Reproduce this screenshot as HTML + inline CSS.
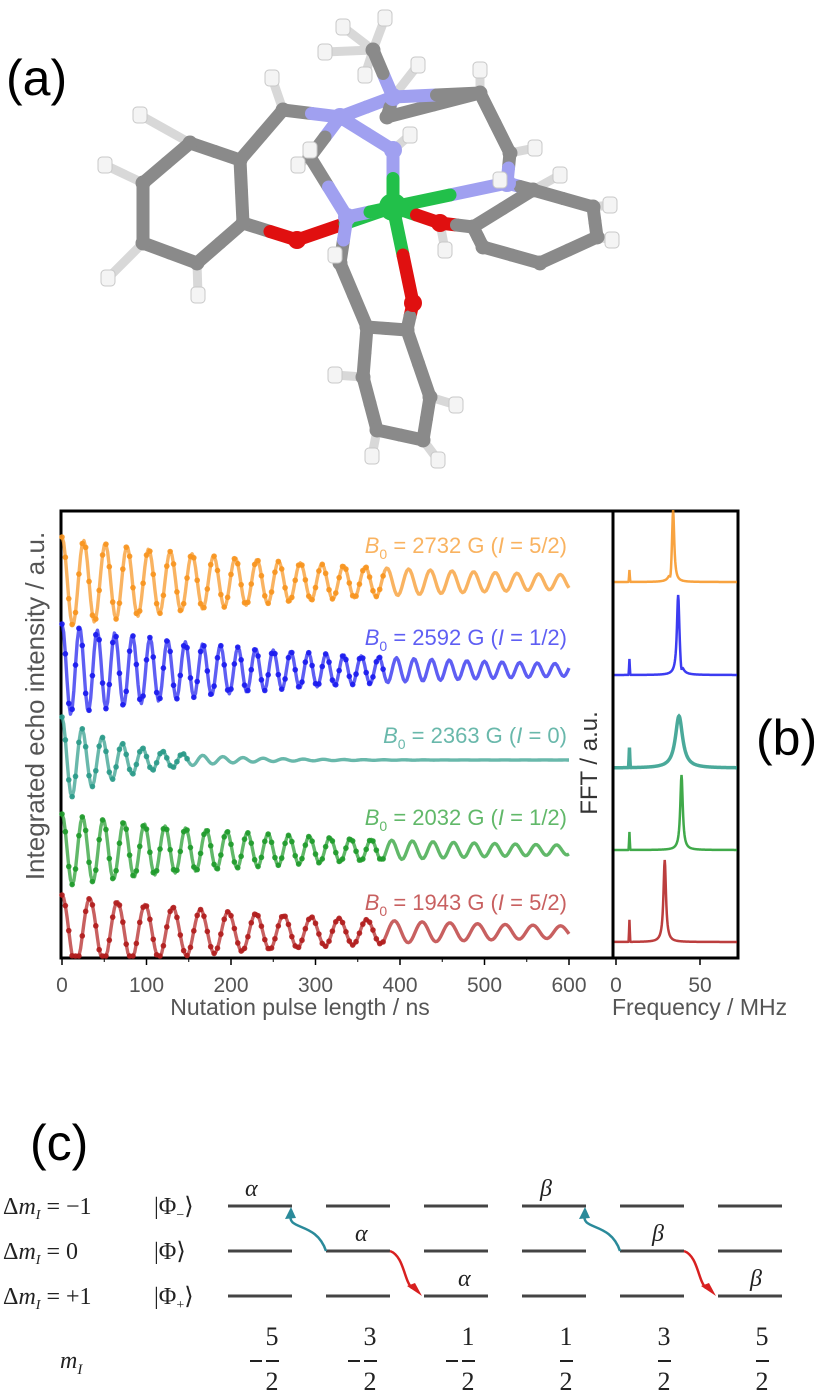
<!DOCTYPE html>
<html><head><meta charset="utf-8">
<style>
html,body{margin:0;padding:0;background:#fff;}
body{width:831px;height:1396px;position:relative;overflow:hidden;font-family:"Liberation Sans",sans-serif;}
svg{position:absolute;left:0;top:0;}
</style></head>
<body>
<svg id="fig" width="831" height="1396" viewBox="0 0 831 1396">
  <text x="6" y="95" font-size="50" fill="#000">(a)</text>
  <g id="mol"></g>

  <g id="chart">
    <rect x="61" y="511" width="677" height="447" fill="none" stroke="#000" stroke-width="3"/>
    <g id="xticks"></g>
    <g id="series"></g>
    <g id="fft"></g>
    <line x1="613" y1="511" x2="613" y2="958" stroke="#000" stroke-width="3"/>
    <text x="300" y="1015" font-size="23" fill="#555" text-anchor="middle">Nutation pulse length / ns</text>
    <text x="612" y="1015" font-size="23" fill="#555">Frequency / MHz</text>
    <text transform="translate(44,706) rotate(-90)" font-size="26" fill="#555" text-anchor="middle">Integrated echo intensity / a.u.</text>
    <text transform="translate(597,763) rotate(-90)" font-size="24" fill="#333" text-anchor="middle">FFT / a.u.</text>
  </g>
  <text x="756" y="755" font-size="50" fill="#000">(b)</text>

  <text x="30" y="1160" font-size="50" fill="#000">(c)</text>
  <g id="levels"></g>
</svg>
<script>
// ---------- chart data ----------
const seriesNames = ['orange','blue','teal','green','red'];
const seriesColors = ['#f7931e','#1a1aee','#2a9a88','#1e9a2a','#b01c1c'];
const fieldLabels = ['2732 G','2592 G','2363 G','2032 G','1943 G'];
const spinLabels = ['5/2','1/2','0','1/2','5/2'];
const nutationFreqMHz = [39, 48, 42, 41, 30.5];
const nutationAmp = [45, 46, 43, 36, 37];
const nutationDecayNs = [330, 300, 75, 300, 330];
const nutationOffset = [582, 670, 760, 850, 932];
const fftPeakMHz = [34, 37, 37.5, 39, 29];
const fftPeakHeight = [72, 80, 52, 75, 82];
const fftPeakWidth = [0.8, 0.9, 2.6, 0.9, 0.9];
const fftSmallMHz = [8, 8, 8, 8, 8];
const fftSmallHeight = [12, 16, 20, 18, 22];
const fftBaseline = [582, 675, 768, 850, 942];
const xTicks = [0,100,200,300,400,500,600];
const fTicks = [0,50];

const NS='http://www.w3.org/2000/svg';
function mk(tag,attrs,parent){const e=document.createElementNS(NS,tag);for(const k in attrs)e.setAttribute(k,attrs[k]);if(parent)parent.appendChild(e);return e;}
const xS = t => 62 + t*0.845;
const fS = f => 616 + f*1.68;

const xt=document.getElementById('xticks');
xTicks.forEach(v=>{
  const l=mk('line',{x1:xS(v),x2:xS(v),y1:958,y2:965,stroke:'#000','stroke-width':1.5},xt);
  
  
  const t=mk('text',{x:xS(v),y:992,'font-size':21,fill:'#555','text-anchor':'middle'},xt);
  t.textContent=v;
  
  
});
for(let v=50;v<600;v+=100){const l=mk('line',{x1:xS(v),x2:xS(v),y1:958,y2:962,stroke:'#000','stroke-width':1},xt);
  
  }
fTicks.forEach(v=>{
  const l=mk('line',{x1:fS(v),x2:fS(v),y1:958,y2:965,stroke:'#000','stroke-width':1.5},xt);
  
  
  const t=mk('text',{x:fS(v),y:992,'font-size':21,fill:'#555','text-anchor':'middle'},xt);
  t.textContent=v;
  
  
});

const sg=document.getElementById('series');
const labY=[553,645,743,825,910];
seriesNames.forEach((nm,i)=>{
  const g=mk('g',{},sg);
  
  
  const pts=[];
  for(let t=0;t<=600;t+=2){
    const y=nutationOffset[i]-nutationAmp[i]*Math.exp(-t/nutationDecayNs[i])*Math.cos(2*Math.PI*nutationFreqMHz[i]*t/1000);
    pts.push([xS(t),Math.min(y,956)]);
  }
  const p=mk('polyline',{points:pts.map(q=>q.join(',')).join(' '),fill:'none',stroke:seriesColors[i],'stroke-width':3.4,'stroke-opacity':0.7,'stroke-linejoin':'round'},g);
  
  
  for(let k=0;k<pts.length;k+=2){
    if(pts[k][0]>xS(i===2?150:380))break;
    const c=mk('circle',{cx:pts[k][0],cy:pts[k][1],r:2.8,fill:seriesColors[i],'fill-opacity':0.9},g);
    
    
  }
  const lab=mk('text',{x:567,y:labY[i],'font-size':22,fill:seriesColors[i],'fill-opacity':0.7,'text-anchor':'end'},g);
  
  
  lab.innerHTML='<tspan font-style="italic">B</tspan><tspan font-size="14" dy="6">0</tspan><tspan dy="-6"> = '+fieldLabels[i]+' (</tspan><tspan font-style="italic">I</tspan><tspan> = '+spinLabels[i]+')</tspan>';
});

const fg=document.getElementById('fft');
seriesNames.forEach((nm,i)=>{
  const g=mk('g',{},fg);
  
  
  const pts=[];
  for(let f=-1.5;f<=72;f+=0.25){
    const w=fftPeakWidth[i];
    let y=fftPeakHeight[i]*w*w/((f-fftPeakMHz[i])**2+w*w);
    y+=fftSmallHeight[i]*Math.exp(-((f-fftSmallMHz[i])**2)/0.08);
    if(i<2){const d=f-(fftPeakMHz[i]+ (i===0?-1.5:1.8));y-=8*Math.exp(-d*d/0.4);}
    pts.push([fS(f),fftBaseline[i]-y]);
  }
  const p=mk('polyline',{points:pts.map(q=>q.join(',')).join(' '),fill:'none',stroke:seriesColors[i],'stroke-width':i===2?3.5:2.5,'stroke-opacity':0.85},g);
  
  
});

// ---------- molecule ----------
const mol=document.getElementById('mol');
const atoms={
 M:[393,207,'#22c04a',14],
 C1:[143,183],C2:[190,143],C3:[240,160],C4:[243,223],C5:[197,263],C6:[143,243],
 O1:[297,240,'#e01010',9],
 CH2a:[283,110],N1:[340,117,'#a0a0f0',9],N2:[393,97,'#a0a0f0',9],N3:[347,217,'#a0a0f0',9],N4:[393,150,'#a0a0f0',9],N5:[507,183,'#a0a0f0',9],
 Me:[373,50],Cb:[387,117],Cc:[480,93],Cd:[510,153],Ce:[310,157],
 O2:[440,223,'#e01010',9],
 R1:[473,227],R2:[533,190],R3:[593,207],R4:[597,237],R5:[540,263],R6:[483,247],
 O3:[413,303,'#e01010',9],
 B1:[407,330],B2:[367,327],B3:[363,377],B4:[377,430],B5:[423,440],B6:[430,397],CH2b:[340,263]
};
const bonds=[['C1','C2'],['C2','C3'],['C3','C4'],['C4','C5'],['C5','C6'],['C6','C1'],['C4','O1'],['O1','M'],['C3','CH2a'],['CH2a','N1'],
['N1','N2'],['N1','N4'],['N2','Me'],['N2','Cb'],['Cb','Cc'],['N2','Cc'],['Cc','Cd'],['Cd','N5'],['N5','M'],['N1','Ce'],['Ce','N3'],['N3','M'],['N4','M'],
['M','O2'],['O2','R1'],['R1','R2'],['R2','R3'],['R3','R4'],['R4','R5'],['R5','R6'],['R6','R1'],['N5','R2'],
['M','O3'],['O3','B1'],['B1','B2'],['B2','B3'],['B3','B4'],['B4','B5'],['B5','B6'],['B6','B1'],['B2','CH2b'],['CH2b','N3']];
const H=[[105,165],[140,115],[108,278],[198,295],[272,78],[343,27],[385,18],[325,52],[418,65],[480,70],[535,148],[500,180],[560,175],[610,205],[612,240],[445,250],[310,150],[298,165],[410,135],[335,255],[335,375],[372,456],[438,460],[456,405],[365,75]];
const col=a=>atoms[a][2]||'#8a8a8a';
H.forEach(([x,y])=>{
  let best=null,bd=1e9;for(const a in atoms){const d=(atoms[a][0]-x)**2+(atoms[a][1]-y)**2;if(d<bd){bd=d;best=a;}}
  const l=mk('line',{x1:x,y1:y,x2:atoms[best][0],y2:atoms[best][1],stroke:'#d8d8d8','stroke-width':9,'stroke-linecap':'round'},mol);
  
  
});
bonds.forEach(([a,b])=>{
  const A=atoms[a],B=atoms[b],mx=(A[0]+B[0])/2,my=(A[1]+B[1])/2;
  [[A,col(a)],[B,col(b)]].forEach(([P,c])=>{
    const l=mk('line',{x1:P[0],y1:P[1],x2:mx,y2:my,stroke:c,'stroke-width':13,'stroke-linecap':'round'},mol);
    
    
  });
});
for(const a in atoms){const A=atoms[a];
  const c=mk('circle',{cx:A[0],cy:A[1],r:A[3]||7.5,fill:col(a)},mol);
  
  }
H.forEach(([x,y])=>{const c=mk('rect',{x:x-7,y:y-8,width:14,height:16,rx:4,fill:'#f4f4f4',stroke:'#c8c8c8','stroke-width':1},mol);
  
  });

// ---------- energy levels ----------
const lv=document.getElementById('levels');
const rowY=[1206,1251,1296];
const colX=[228,326,424,522,620,718];
const rowLabels=[['Δ<tspan font-style="italic">m</tspan><tspan font-style="italic" font-size="14" dy="5">I</tspan><tspan dy="-5"> = −1</tspan>','|Φ<tspan font-size="14" dy="5">−</tspan><tspan dy="-5">⟩</tspan>'],
 ['Δ<tspan font-style="italic">m</tspan><tspan font-style="italic" font-size="14" dy="5">I</tspan><tspan dy="-5"> = 0</tspan>','|Φ⟩'],
 ['Δ<tspan font-style="italic">m</tspan><tspan font-style="italic" font-size="14" dy="5">I</tspan><tspan dy="-5"> = +1</tspan>','|Φ<tspan font-size="14" dy="5">+</tspan><tspan dy="-5">⟩</tspan>']];
rowY.forEach((y,r)=>{
  const t=mk('text',{x:3,y:y+8,'font-size':24,'font-family':'Liberation Serif, serif',fill:'#222'},lv);
  t.innerHTML=rowLabels[r][0];
  
  
  const t2=mk('text',{x:154,y:y+8,'font-size':24,'font-family':'Liberation Serif, serif',fill:'#222'},lv);
  t2.innerHTML=rowLabels[r][1];
  
  
  colX.forEach(x=>{const l=mk('line',{x1:x,x2:x+64,y1:y,y2:y,stroke:'#444','stroke-width':3},lv);
    
    });
});
const greek=[['α',245,1196],['α',355,1241],['α',458,1286],['β',540,1196],['β',652,1241],['β',750,1286]];
greek.forEach(([s,x,y])=>{const t=mk('text',{x:x,y:y,'font-size':24,'font-style':'italic','font-family':'Liberation Serif, serif',fill:'#222'},lv);t.textContent=s;
  
  });
[[326,424],[620,718]].forEach(([a,b])=>{
  const p1=mk('path',{d:`M${a},${rowY[1]} C${a-10},${rowY[1]-30} ${a-40},${rowY[1]-20} ${a-35},${rowY[0]+8}`,fill:'none',stroke:'#2a8a9a','stroke-width':2.5},lv);
  
  
  const h1=mk('polygon',{points:`${a-35},${rowY[0]+1} ${a-41},${rowY[0]+13} ${a-30},${rowY[0]+12}`,fill:'#2a8a9a'},lv);
  
  
  const p2=mk('path',{d:`M${b-34},${rowY[1]} C${b-20},${rowY[1]+5} ${b-20},${rowY[1]+30} ${b-12},${rowY[2]-8}`,fill:'none',stroke:'#d82020','stroke-width':2.5},lv);
  
  
  const h2=mk('polygon',{points:`${b-2},${rowY[2]} ${b-17},${rowY[2]-10} ${b-9},${rowY[2]-13}`,fill:'#d82020'},lv);
  
  
});
const mt=mk('text',{x:60,y:1368,'font-size':24,'font-style':'italic','font-family':'Liberation Serif, serif',fill:'#222'},lv);
mt.innerHTML='m<tspan font-size="15" dy="6">I</tspan>';


const nums=['5','3','1','1','3','5'],neg=[1,1,1,0,0,0];
colX.forEach((x,k)=>{
  const cx=x+38;
  const g=mk('g',{},lv);
  
  
  const n=mk('text',{x:cx+6,y:1345,'font-size':26,'font-family':'Liberation Serif, serif','text-anchor':'middle',fill:'#222'},g);n.textContent=nums[k];
  const d=mk('text',{x:cx+6,y:1390,'font-size':26,'font-family':'Liberation Serif, serif','text-anchor':'middle',fill:'#222'},g);d.textContent='2';
  mk('line',{x1:cx,x2:cx+13,y1:1361,y2:1361,stroke:'#222','stroke-width':2},g);
  if(neg[k])mk('line',{x1:cx-16,x2:cx-4,y1:1361,y2:1361,stroke:'#222','stroke-width':2},g);
});
</script>
</body></html>
